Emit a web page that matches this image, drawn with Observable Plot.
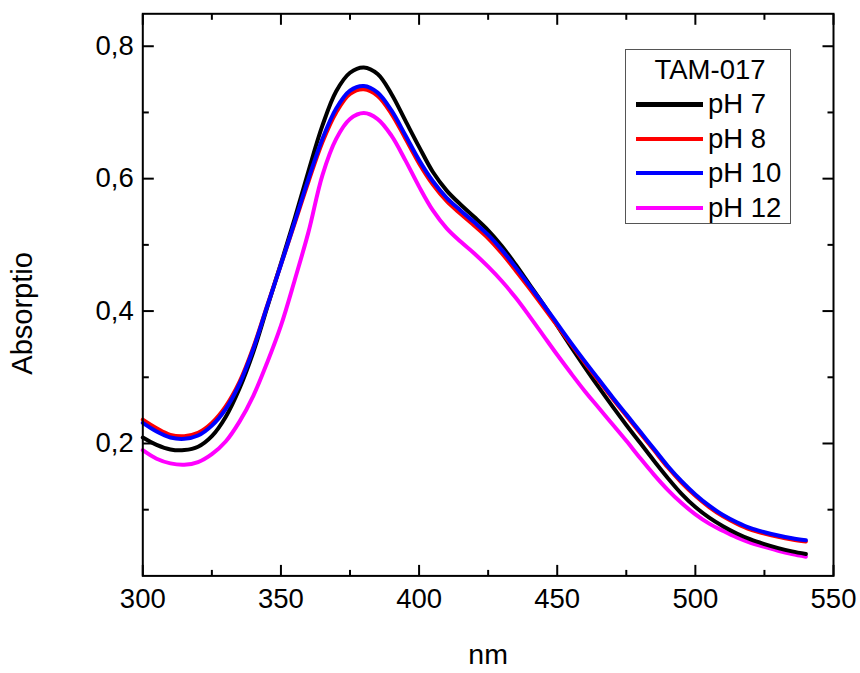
<!DOCTYPE html>
<html>
<head>
<meta charset="utf-8">
<script src="https://cdn.jsdelivr.net/npm/d3@7"></script>
<script src="https://cdn.jsdelivr.net/npm/@observablehq/plot@0.6"></script>
<style>
  html, body { margin: 0; padding: 0; background: #fff; }
  #wrap { position: relative; width: 860px; height: 673px; font-family: "Liberation Sans", Arial, sans-serif; }
  #legend { position: absolute; left: 625px; top: 49px; width: 164px; height: 173px; border: 1px solid #555; background: #fff;
            font-size: 27.5px; line-height: 34.4px; color: #000; box-sizing: content-box; }
  #legend .title { text-align: center; padding-top: 3px; padding-left: 4px; }
  #legend .row { display: flex; align-items: center; height: 34.4px; }
  #legend .sw { display: inline-block; width: 67px; height: 4px; margin-left: 10px; margin-right: 5px; }
</style>
</head>
<body>
<div id="wrap"></div>
<script>
// ---- data ----
const wavelengths = [300,305,310,315,320,325,330,335,340,345,350,355,360,365,370,375,380,385,390,395,400,405,410,415,420,425,430,435,440,445,450,455,460,465,470,475,480,485,490,495,500,505,510,515,520,525,530,535,540];
const pH7  = [.209,.198,.191,.190,.195,.211,.240,.283,.338,.405,.472,.540,.612,.680,.732,.760,.768,.758,.728,.688,.648,.610,.582,.561,.542,.522,.498,.470,.440,.410,.378,.346,.315,.285,.256,.228,.201,.174,.148,.124,.104,.088,.075,.064,.055,.048,.042,.037,.033];
const pH8  = [.236,.223,.213,.211,.216,.231,.256,.293,.345,.408,.470,.533,.596,.655,.700,.728,.735,.725,.698,.661,.623,.591,.566,.547,.529,.510,.487,.461,.434,.406,.378,.350,.322,.295,.268,.242,.216,.190,.164,.141,.121,.104,.090,.079,.070,.064,.059,.055,.052];
const pH10 = [.231,.218,.209,.207,.212,.227,.252,.290,.343,.407,.470,.535,.600,.660,.706,.733,.740,.730,.703,.666,.628,.596,.571,.552,.534,.515,.492,.466,.438,.410,.381,.352,.324,.297,.270,.244,.218,.192,.166,.143,.123,.106,.092,.081,.072,.066,.061,.057,.054];
const pH12 = [.190,.177,.170,.168,.172,.184,.203,.233,.272,.322,.378,.447,.520,.605,.660,.690,.699,.690,.665,.628,.588,.552,.525,.505,.487,.467,.445,.420,.392,.363,.334,.306,.279,.254,.229,.204,.178,.153,.130,.110,.093,.079,.068,.058,.050,.044,.038,.033,.029];
const seriesNames  = ["pH 7", "pH 8", "pH 10", "pH 12"];
const seriesColors = ["#000000", "#ff0000", "#0000ff", "#ff00ff"];
const legendTitle = "TAM-017";
const xMajor = [300, 350, 400, 450, 500, 550];
const xMinor = [325, 375, 425, 475, 525];
const yMajor = [0.2, 0.4, 0.6, 0.8];
const yMinor = [0.1, 0.3, 0.5, 0.7];
const xTitle = "nm";
const yTitle = "Absorptio";

// ---- build table ----
const seriesValues = [pH7, pH8, pH10, pH12];
const rows = [];
seriesNames.forEach((name, s) => {
  wavelengths.forEach((w, i) => rows.push({series: name, nm: w, a: seriesValues[s][i]}));
});
const drawOrder = ["pH 12", "pH 7", "pH 8", "pH 10"];

const tickShape = {draw(context, l) { context.moveTo(0, 0); context.lineTo(0, -l); }};
const tickOpts = {anchor: "start", shape: tickShape, stroke: "black", strokeWidth: 2, strokeLinecap: "butt"};
const fmtY = d => d.toFixed(1).replace(".", ",");

const chart = Plot.plot({
  width: 860,
  height: 673,
  marginLeft: 142.3,
  marginRight: 27,
  marginTop: 13.3,
  marginBottom: 97.6,
  style: {fontFamily: "'Liberation Sans', Arial, sans-serif", fontSize: "27.5px", color: "#000", background: "#fff"},
  x: {domain: [300, 550], label: null},
  y: {domain: [0, 0.849], label: null},
  color: {domain: seriesNames, range: seriesColors},
  marks: [
    ...drawOrder.map(name => Plot.line(rows.filter(d => d.series === name), {x: "nm", y: "a", stroke: "series", strokeWidth: 4, curve: "catmull-rom"})),
    Plot.frame({stroke: "black", strokeWidth: 2}),
    // bottom ticks
    Plot.vector(xMajor, {x: d => d, frameAnchor: "bottom", length: 11, rotate: 0, ...tickOpts}),
    Plot.vector(xMinor, {x: d => d, frameAnchor: "bottom", length: 6, rotate: 0, ...tickOpts}),
    // top ticks
    Plot.vector(xMajor, {x: d => d, frameAnchor: "top", length: 11, rotate: 180, ...tickOpts}),
    Plot.vector(xMinor, {x: d => d, frameAnchor: "top", length: 6, rotate: 180, ...tickOpts}),
    // left ticks
    Plot.vector(yMajor, {y: d => d, frameAnchor: "left", length: 11, rotate: 90, ...tickOpts}),
    Plot.vector(yMinor, {y: d => d, frameAnchor: "left", length: 6, rotate: 90, ...tickOpts}),
    // right ticks
    Plot.vector(yMajor, {y: d => d, frameAnchor: "right", length: 11, rotate: -90, ...tickOpts}),
    Plot.vector(yMinor, {y: d => d, frameAnchor: "right", length: 6, rotate: -90, ...tickOpts}),
    Plot.axisX(xMajor, {tickSize: 0, tickPadding: 13, fontSize: 27.5, tickFormat: d => String(d), label: null}),
    Plot.axisY(yMajor, {tickSize: 0, tickPadding: 9, fontSize: 27.5, tickFormat: fmtY, label: null}),
    Plot.text([xTitle], {text: d => d, frameAnchor: "bottom", textAnchor: "middle", dy: 79, lineAnchor: "middle", fontSize: 28.5, fill: "black"}),
    Plot.text([yTitle], {text: d => d, frameAnchor: "left", textAnchor: "middle", rotate: -90, dx: -120, dy: 18.6, lineAnchor: "middle", fontSize: 29, fill: "black", letterSpacing: "0.8px"})
  ]
});

const wrap = document.getElementById("wrap");
wrap.appendChild(chart);

// legend
const legend = document.createElement("div");
legend.id = "legend";
const t = document.createElement("div");
t.className = "title";
t.textContent = legendTitle;
legend.appendChild(t);
seriesNames.forEach((name, i) => {
  const r = document.createElement("div");
  r.className = "row";
  const sw = document.createElement("span");
  sw.className = "sw";
  sw.style.background = seriesColors[i];
  if (i === 0) sw.style.height = "4.5px";
  const lab = document.createElement("span");
  lab.textContent = name;
  r.appendChild(sw);
  r.appendChild(lab);
  legend.appendChild(r);
});
wrap.appendChild(legend);
</script>
</body>
</html>
